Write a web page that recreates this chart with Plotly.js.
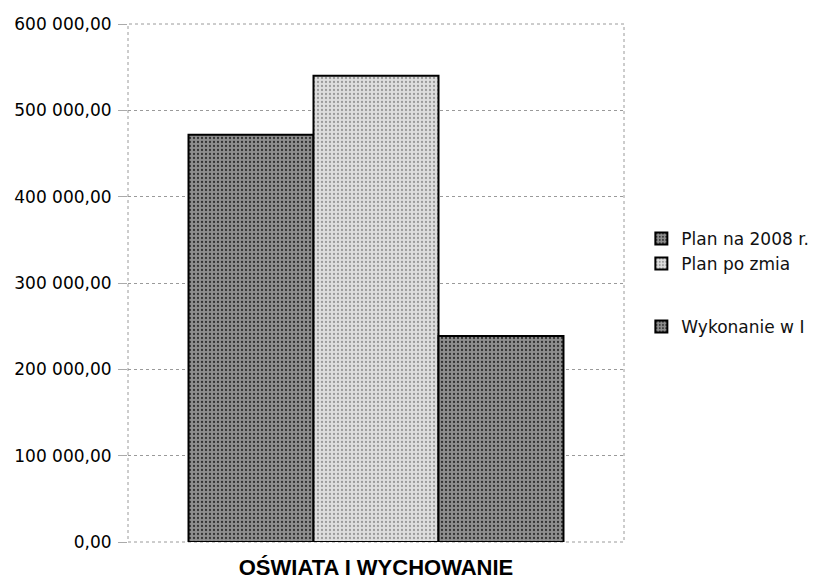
<!DOCTYPE html>
<html>
<head>
<meta charset="utf-8">
<script src="https://cdn.plot.ly/plotly-3.0.1.min.js"></script>
<style>html,body{margin:0;padding:0;background:#fff;}#chart{width:834px;height:580px;}</style>
</head>
<body>
<div id="chart"></div>
<script>
const categories = ["OŚWIATA I WYCHOWANIE"];
const seriesNames = ["Plan na 2008 r.", "Plan po zmia", "Wykonanie w I"];
const planValues = [471700];
const planPoZmianachValues = [540100];
const wykonanieValues = [238700];
const yTickVals = [0, 100000, 200000, 300000, 400000, 500000, 600000];
const yTickText = ["0,00", "100 000,00", "200 000,00", "300 000,00", "400 000,00", "500 000,00", "600 000,00"];

const seriesValues = [planValues, planPoZmianachValues, wykonanieValues];
const fills = ["#8e8e8e", "#dedede", "#8e8e8e"];
const groups = ["a", "a", "b"];

const traces = seriesValues.map((vals, i) => ({
  type: "bar",
  name: seriesNames[i],
  x: categories,
  y: vals,
  legendgroup: groups[i],
  marker: {
    color: fills[i],
    line: {color: "#000", width: 2},
    pattern: {shape: ".", fgcolor: i === 1 ? "#9a9a9a" : "#333", bgcolor: fills[i], size: 4, solidity: 0.25}
  },
  hoverinfo: "skip"
}));

const layout = {
  width: 834,
  height: 580,
  margin: {l: 128, r: 210, t: 24, b: 38},
  paper_bgcolor: "#fff",
  plot_bgcolor: "#fff",
  barmode: "group",
  bargap: 0.244,
  bargroupgap: 0,
  showlegend: true,
  legend: {
    x: 1.035, y: 0.62, xanchor: "left", yanchor: "top",
    traceorder: "grouped",
    tracegroupgap: 38,
    font: {family: "DejaVu Sans", size: 17, color: "#111"},
    bgcolor: "rgba(0,0,0,0)"
  },
  xaxis: {
    type: "category",
    showgrid: false,
    zeroline: false,
    showline: false,
    ticks: "",
    ticklabelstandoff: 10,
    tickfont: {family: "Liberation Sans", size: 22, color: "#000", weight: "bold"}
  },
  yaxis: {
    range: [0, 600000],
    tickvals: yTickVals,
    ticktext: yTickText,
    showgrid: true,
    gridcolor: "#9a9a9a",
    griddash: "dot",
    gridwidth: 1,
    zeroline: false,
    showline: false,
    ticks: "outside",
    ticklen: 9,
    tickcolor: "#aaa",
    ticklabelstandoff: 3,
    tickfont: {family: "DejaVu Sans", size: 17, color: "#000"}
  },
  shapes: [{
    type: "rect", xref: "paper", yref: "paper", x0: 0, x1: 1, y0: 0, y1: 1,
    line: {color: "#9a9a9a", width: 1, dash: "dot"}, layer: "below"
  }]
};

Plotly.newPlot("chart", traces, layout, {displayModeBar: false, staticPlot: true});
</script>
</body>
</html>
